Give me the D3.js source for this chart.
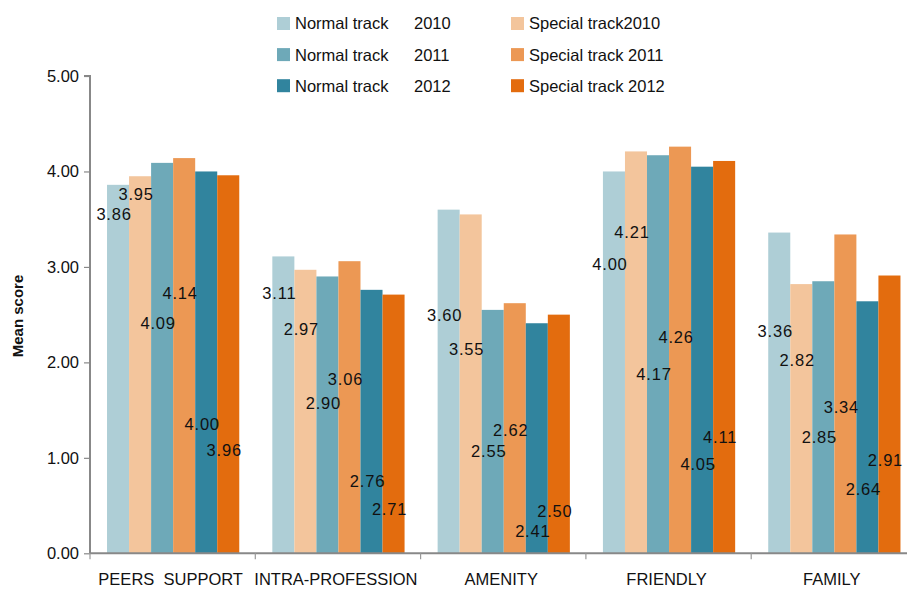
<!DOCTYPE html>
<html>
<head>
<meta charset="utf-8">
<script src="https://cdn.jsdelivr.net/npm/d3@7"></script>
<style>
  html, body { margin: 0; padding: 0; background: #fff; }
  svg { display: block; font-family: "Liberation Sans", Arial, Helvetica, sans-serif; }
</style>
</head>
<body>
<div id="chart"></div>
<script>
// categories and series (order of bars inside each group)
var categories = ["PEERS  SUPPORT", "INTRA-PROFESSION", "AMENITY", "FRIENDLY", "FAMILY"];
var seriesNames = ["Normal track 2010", "Special track2010", "Normal track 2011",
                   "Special track 2011", "Normal track 2012", "Special track 2012"];

var normal2010  = [3.86, 3.11, 3.60, 4.00, 3.36];
var special2010 = [3.95, 2.97, 3.55, 4.21, 2.82];
var normal2011  = [4.09, 2.90, 2.55, 4.17, 2.85];
var special2011 = [4.14, 3.06, 2.62, 4.26, 3.34];
var normal2012  = [4.00, 2.76, 2.41, 4.05, 2.64];
var special2012 = [3.96, 2.71, 2.50, 4.11, 2.91];

// score level where each value label sits (as exported)
var labelN2010 = [3.55, 2.73, 2.50, 3.03, 2.33];
var labelS2010 = [3.76, 2.35, 2.14, 3.36, 2.02];
var labelN2011 = [2.41, 1.57, 1.07, 1.88, 1.22];
var labelS2011 = [2.73, 1.83, 1.29, 2.27, 1.53];
var labelN2012 = [1.35, 0.76, 0.23, 0.93, 0.67];
var labelS2012 = [1.08, 0.46, 0.44, 1.22, 0.98];

var yTicks = [0, 1, 2, 3, 4, 5];

var values = [normal2010, special2010, normal2011, special2011, normal2012, special2012];
var labelLevels = [labelN2010, labelS2010, labelN2011, labelS2011, labelN2012, labelS2012];
var colors = ["#aeced6", "#f3c59c", "#6ea9b8", "#ec9854", "#31849e", "#e36c0e"];

var width = 907, height = 590;

var svg = d3.select("#chart").append("svg")
  .attr("width", width)
  .attr("height", height);

var x0 = d3.scaleBand()
  .domain(categories)
  .range([90, 916.5])
  .padding(0);

var x1 = d3.scaleBand()
  .domain(d3.range(seriesNames.length))
  .range([x0.bandwidth() * 0.103, x0.bandwidth() * 0.903])
  .padding(0);

var y = d3.scaleLinear()
  .domain([0, 5])
  .range([553.3, 76]);

// bars
var groups = svg.append("g").selectAll("g")
  .data(categories)
  .join("g")
  .attr("transform", function (d) { return "translate(" + x0(d) + ",0)"; });

groups.selectAll("rect")
  .data(function (d, ci) { return values.map(function (s, si) { return { si: si, v: s[ci] }; }); })
  .join("rect")
  .attr("x", function (d) { return x1(d.si); })
  .attr("width", x1.bandwidth())
  .attr("y", function (d) { return y(d.v); })
  .attr("height", function (d) { return y(0) - y(d.v); })
  .attr("fill", function (d) { return colors[d.si]; });

// value labels
groups.selectAll("text")
  .data(function (d, ci) {
    return values.map(function (s, si) { return { si: si, v: s[ci], at: labelLevels[si][ci] }; });
  })
  .join("text")
  .attr("x", function (d) { return x1(d.si) + x1.bandwidth() / 2 - 4; })
  .attr("y", function (d) { return y(d.at); })
  .attr("dy", "0.36em")
  .attr("text-anchor", "middle")
  .attr("font-size", "16.5px")
  .attr("letter-spacing", "0.8px")
  .attr("fill", "#111")
  .text(function (d) { return d.v.toFixed(2); });

// y axis
var yAxis = svg.append("g")
  .attr("transform", "translate(90,0)")
  .call(d3.axisLeft(y).tickValues(yTicks).tickFormat(d3.format(".2f")).tickSize(6).tickPadding(5));
yAxis.select(".domain").attr("stroke", "#888").attr("stroke-width", 2).attr("d", "M-6," + y(5) + "H0V" + y(0));
yAxis.selectAll(".tick line").attr("stroke", "#888").attr("stroke-width", 1.2);
yAxis.selectAll(".tick text").attr("font-size", "16.5px").attr("fill", "#111")
  .attr("font-family", "Liberation Sans, Arial, sans-serif");

// x axis
var xAxis = svg.append("g")
  .attr("transform", "translate(0," + y(0) + ")");
xAxis.append("line")
  .attr("x1", 90).attr("x2", width)
  .attr("stroke", "#888").attr("stroke-width", 2);
xAxis.selectAll(".sep")
  .data(categories)
  .join("line")
  .attr("class", "sep")
  .attr("x1", function (d) { return x0(d); })
  .attr("x2", function (d) { return x0(d); })
  .attr("y1", 0).attr("y2", 6)
  .attr("stroke", "#999").attr("stroke-width", 1.2);
xAxis.selectAll(".cat")
  .data(categories)
  .join("text")
  .attr("class", "cat")
  .attr("x", function (d) { return x0(d) + x0.bandwidth() / 2 - 2; })
  .attr("y", 32)
  .attr("text-anchor", "middle")
  .attr("font-size", "16.5px")
  .attr("fill", "#111")
  .attr("xml:space", "preserve")
  .style("white-space", "pre")
  .text(function (d) { return d; });

// y title
svg.append("text")
  .attr("transform", "translate(23,316) rotate(-90)")
  .attr("text-anchor", "middle")
  .attr("font-size", "15px")
  .attr("font-weight", "bold")
  .attr("fill", "#111")
  .text("Mean score");

// legend: two columns, three rows
var legendItems = seriesNames.map(function (name, i) {
  var col = i % 2, row = Math.floor(i / 2);
  var parts = col === 0 ? [name.replace(/ \d+$/, ""), name.match(/\d+$/)[0]] : [name];
  return { col: col, row: row, parts: parts, color: colors[i] };
});

var legend = svg.append("g").selectAll("g")
  .data(legendItems)
  .join("g")
  .attr("transform", function (d) {
    return "translate(" + (d.col === 0 ? 277 : 511) + "," + (23.5 + d.row * 31.1) + ")";
  });

legend.append("rect")
  .attr("x", 0).attr("y", -6.5)
  .attr("width", 13).attr("height", 13)
  .attr("fill", function (d) { return d.color; });

legend.append("text")
  .attr("x", 18)
  .attr("dy", "0.36em")
  .attr("font-size", "16.5px")
  .attr("fill", "#111")
  .text(function (d) { return d.parts[0]; });

legend.filter(function (d) { return d.parts.length > 1; })
  .append("text")
  .attr("x", 137)
  .attr("dy", "0.36em")
  .attr("font-size", "16.5px")
  .attr("fill", "#111")
  .text(function (d) { return d.parts[1]; });
</script>
</body>
</html>
